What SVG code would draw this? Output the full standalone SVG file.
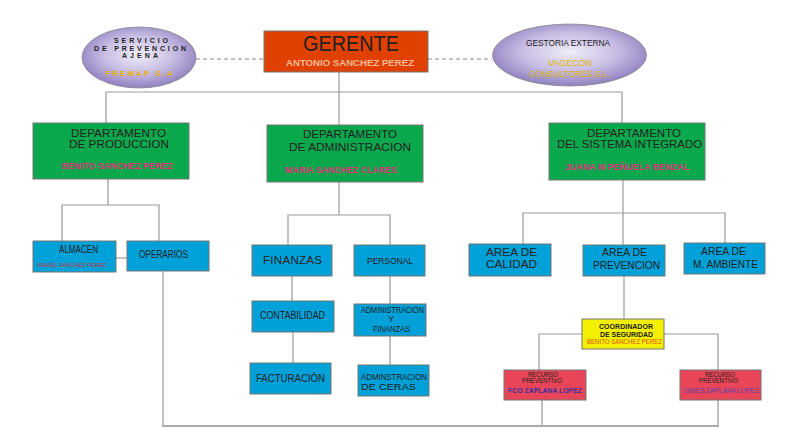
<svg xmlns="http://www.w3.org/2000/svg" width="800" height="438" viewBox="0 0 800 438">
<style>
text{font-family:"Liberation Sans",Arial,sans-serif;fill:#222;}
.box{stroke:#777;stroke-width:1;}
.green{fill:#0AA84C;}
.blue{fill:#00A0D8;}
.red{fill:#E84658;}
.yel{fill:#F2F000;}
.ger{fill:#E04000;}
.ell{fill:url(#eg);stroke:#888;stroke-width:0.8;}
.c{text-anchor:middle;}
.dept{font-size:11.5px;}
.dname{font-size:8.5px;font-weight:bold;fill:#E0307A;}
.conn line,.conn polyline{stroke:#999;stroke-width:1.2;fill:none;}
</style>
<defs>
<radialGradient id="eg" cx="50%" cy="45%" r="55%">
<stop offset="0" stop-color="#F0ECF8"/>
<stop offset="0.55" stop-color="#C8BEE4"/>
<stop offset="1" stop-color="#9080C0"/>
</radialGradient>
</defs>
<rect width="800" height="438" fill="#fff"/>

<g class="conn">
<line x1="196" y1="59" x2="264" y2="59" stroke-dasharray="4,3" style="stroke:#888"/>
<line x1="428" y1="59" x2="492" y2="59" stroke-dasharray="4,3" style="stroke:#888"/>
<line x1="339" y1="72" x2="339" y2="125"/>
<polyline points="106,123 106,92 622,92 622,123"/>
<line x1="108" y1="179" x2="108" y2="205"/>
<polyline points="62,241 62,205 159,205 159,241"/>
<line x1="116" y1="258" x2="127" y2="258"/>
<line x1="339" y1="182" x2="339" y2="215"/>
<polyline points="288,245 288,215 390,215 390,245"/>
<line x1="292" y1="276" x2="292" y2="301"/>
<line x1="390" y1="276" x2="390" y2="304"/>
<line x1="293" y1="332" x2="293" y2="363"/>
<line x1="390" y1="336" x2="390" y2="365"/>
<line x1="623" y1="180" x2="623" y2="245"/>
<polyline points="523,244 523,213 725,213 725,243"/>
<line x1="624" y1="276" x2="624" y2="319"/>
<polyline points="582,334 539,334 539,370"/>
<polyline points="664,334 718,334 718,370"/>
<line x1="163" y1="271" x2="163" y2="426"/>
<line x1="542" y1="400" x2="542" y2="426"/>
<line x1="718" y1="400" x2="718" y2="426"/>
<line x1="162" y1="426" x2="719" y2="426" style="stroke:#aaa;stroke-width:2"/>
</g>

<g id="servicio">
<ellipse class="ell" cx="139" cy="57.5" rx="57" ry="30.5"/>
<text class="c" x="141" y="43" font-size="7" font-weight="bold" fill="#333" textLength="54" lengthAdjust="spacing">SERVICIO</text>
<text class="c" x="140" y="50.5" font-size="7" font-weight="bold" fill="#333" textLength="92" lengthAdjust="spacing">DE PREVENCION</text>
<text class="c" x="140" y="58" font-size="7" font-weight="bold" fill="#333" textLength="36" lengthAdjust="spacing">AJENA</text>
<text class="c" x="139" y="76" font-size="8" font-weight="bold" style="fill:#E8B000" textLength="67" lengthAdjust="spacing">FREMAP S.A</text>
</g>

<g id="gerente">
<rect class="box ger" x="264" y="31" width="164" height="41"/>
<text class="c" x="351" y="51" font-size="22" textLength="96" lengthAdjust="spacingAndGlyphs">GERENTE</text>
<text class="c" x="350" y="66" font-size="8.5" font-weight="bold" style="fill:#F6B89A" textLength="128" lengthAdjust="spacingAndGlyphs">ANTONIO SANCHEZ PEREZ</text>
</g>

<g id="gestoria">
<ellipse class="ell" cx="569.5" cy="55" rx="77" ry="31"/>
<text class="c" x="568" y="46" font-size="8.5" fill="#333" textLength="84" lengthAdjust="spacingAndGlyphs">GESTORIA EXTERNA</text>
<text class="c" x="570" y="66" font-size="9" style="fill:#DCB400" textLength="44" lengthAdjust="spacingAndGlyphs">VAGECON</text>
<text class="c" x="569.5" y="77" font-size="9" style="fill:#DCB400" textLength="81" lengthAdjust="spacingAndGlyphs">CONSULTORES,S.L.</text>
</g>

<g id="dep-produccion">
<rect class="box green" x="33" y="123" width="156" height="56"/>
<text class="c dept" x="118.5" y="137" textLength="95" lengthAdjust="spacingAndGlyphs">DEPARTAMENTO</text>
<text class="c dept" x="119" y="148" textLength="100" lengthAdjust="spacingAndGlyphs">DE  PRODUCCION</text>
<text class="c dname" x="117.5" y="169" textLength="111" lengthAdjust="spacingAndGlyphs">BENITO SANCHEZ PEREZ</text>
</g>

<g id="dep-administracion">
<rect class="box green" x="267" y="125" width="156" height="57"/>
<text class="c dept" x="350" y="138" textLength="94" lengthAdjust="spacingAndGlyphs">DEPARTAMENTO</text>
<text class="c dept" x="350" y="151" textLength="122" lengthAdjust="spacingAndGlyphs">DE  ADMINISTRACION</text>
<text class="c dname" x="341" y="173" textLength="112" lengthAdjust="spacingAndGlyphs">MARIA SANCHEZ CLARES</text>
</g>

<g id="dep-sistema">
<rect class="box green" x="549" y="123" width="156" height="57"/>
<text class="c" x="634" y="137" font-size="10.5" textLength="94" lengthAdjust="spacingAndGlyphs">DEPARTAMENTO</text>
<text class="c" x="629.5" y="147.5" font-size="10.5" textLength="145" lengthAdjust="spacingAndGlyphs">DEL SISTEMA INTEGRADO</text>
<text class="c dname" x="627" y="170" textLength="124" lengthAdjust="spacingAndGlyphs">JUANA M PEÑUELA BENZAL</text>
</g>

<g id="almacen">
<rect class="box blue" x="33" y="241" width="83" height="31"/>
<text class="c" x="78.5" y="253" font-size="10" textLength="39" lengthAdjust="spacingAndGlyphs">ALMACEN</text>
<text class="c" x="71.5" y="267" font-size="6" style="fill:#C8303C" textLength="69" lengthAdjust="spacingAndGlyphs">ISMAEL SANCHEZ PEREZ</text>
</g>

<g id="operarios">
<rect class="box blue" x="127" y="241" width="82" height="30"/>
<text class="c" x="163.5" y="258" font-size="10" textLength="49" lengthAdjust="spacingAndGlyphs">OPERARIOS</text>
</g>

<g id="finanzas">
<rect class="box blue" x="252" y="245" width="80" height="31"/>
<text class="c" x="292.5" y="264" font-size="11.5" textLength="59" lengthAdjust="spacing">FINANZAS</text>
</g>

<g id="personal">
<rect class="box blue" x="354" y="245" width="71" height="31"/>
<text class="c" x="390" y="264" font-size="9" textLength="46" lengthAdjust="spacingAndGlyphs">PERSONAL</text>
</g>

<g id="contabilidad">
<rect class="box blue" x="252" y="301" width="82" height="31"/>
<text class="c" x="292.5" y="319" font-size="10" textLength="65" lengthAdjust="spacingAndGlyphs">CONTABILIDAD</text>
</g>

<g id="admin-finanzas">
<rect class="box blue" x="354" y="304" width="72" height="32"/>
<text class="c" x="392.5" y="313" font-size="9" textLength="63" lengthAdjust="spacingAndGlyphs">ADMINISTRACION</text>
<text class="c" x="391" y="322" font-size="9">Y</text>
<text class="c" x="391.5" y="332" font-size="9" textLength="37" lengthAdjust="spacingAndGlyphs">FINANZAS</text>
</g>

<g id="facturacion">
<rect class="box blue" x="250" y="363" width="81" height="31"/>
<text class="c" x="290.5" y="382" font-size="10" fill="#333" textLength="69" lengthAdjust="spacingAndGlyphs">FACTURACIÓN</text>
</g>

<g id="admin-ceras">
<rect class="box blue" x="358" y="365" width="71" height="31"/>
<text class="c" x="394" y="380" font-size="9.5" textLength="66" lengthAdjust="spacingAndGlyphs">ADMINSTRACION</text>
<text class="c" x="388.5" y="390" font-size="9.5" textLength="55" lengthAdjust="spacingAndGlyphs">DE   CERAS</text>
</g>

<g id="area-calidad">
<rect class="box blue" x="469" y="244" width="82" height="32"/>
<text class="c" x="511.5" y="256" font-size="11" textLength="51" lengthAdjust="spacingAndGlyphs">AREA DE</text>
<text class="c" x="511.5" y="268" font-size="11" textLength="51" lengthAdjust="spacingAndGlyphs">CALIDAD</text>
</g>

<g id="area-prevencion">
<rect class="box blue" x="583" y="245" width="82" height="31"/>
<text class="c" x="624.5" y="256" font-size="11" textLength="45" lengthAdjust="spacingAndGlyphs">AREA DE</text>
<text class="c" x="626.5" y="269" font-size="11" textLength="67" lengthAdjust="spacingAndGlyphs">PREVENCION</text>
</g>

<g id="area-ambiente">
<rect class="box blue" x="684" y="243" width="81" height="31"/>
<text class="c" x="723.5" y="255" font-size="11" textLength="45" lengthAdjust="spacingAndGlyphs">AREA DE</text>
<text class="c" x="725.5" y="268" font-size="11" textLength="65" lengthAdjust="spacingAndGlyphs">M. AMBIENTE</text>
</g>

<g id="coordinador">
<rect class="box yel" x="582" y="319" width="82" height="30"/>
<text class="c" x="626" y="329" font-size="7.5" font-weight="bold" textLength="54" lengthAdjust="spacingAndGlyphs">COORDINADOR</text>
<text class="c" x="626.5" y="337" font-size="7.5" font-weight="bold" textLength="53" lengthAdjust="spacingAndGlyphs">DE SEGURIDAD</text>
<text class="c" x="624.5" y="344" font-size="7" style="fill:#E05010" textLength="75" lengthAdjust="spacingAndGlyphs">BENITO SANCHEZ PEREZ</text>
</g>

<g id="recurso-1">
<rect class="box red" x="504" y="370" width="82" height="30"/>
<text class="c" x="543" y="377" font-size="6.5" fill="#333" textLength="30" lengthAdjust="spacingAndGlyphs">RECURSO</text>
<text class="c" x="542" y="383" font-size="6.5" fill="#333" textLength="40" lengthAdjust="spacingAndGlyphs">PREVENTIVO</text>
<text class="c" x="545" y="393" font-size="7.5" font-weight="bold" style="fill:#4030A0" textLength="74" lengthAdjust="spacingAndGlyphs">FCO ZAPLANA LOPEZ</text>
</g>

<g id="recurso-2">
<rect class="box red" x="680" y="370" width="81" height="30"/>
<text class="c" x="720" y="377" font-size="6.5" fill="#333" textLength="30" lengthAdjust="spacingAndGlyphs">RECURSO</text>
<text class="c" x="718.5" y="383" font-size="6.5" fill="#333" textLength="39" lengthAdjust="spacingAndGlyphs">PREVENTIVO</text>
<text class="c" x="721.5" y="393" font-size="7" style="fill:#6040A8" textLength="75" lengthAdjust="spacing">GINES ZAPLANA LOPEZ</text>
</g>
</svg>
